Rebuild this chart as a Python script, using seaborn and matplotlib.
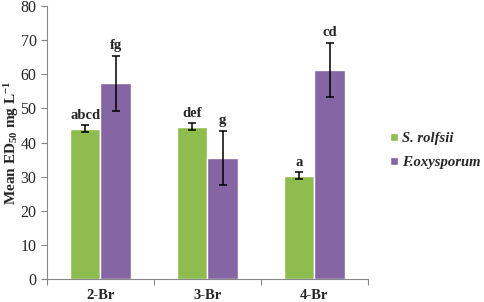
import numpy as np
import pandas as pd
import seaborn as sns
import matplotlib.pyplot as plt

# Data
compounds = ["2-Br", "3-Br", "4-Br"]
fungi = ["S. rolfsii", "F.oxysporum"]
rolfsii_mean = [44.1, 44.7, 30.3]
rolfsii_err = [1.0, 1.0, 1.0]
oxysporum_mean = [57.4, 35.6, 61.2]
oxysporum_err = [8.1, 7.9, 8.0]
rolfsii_letters = ["abcd", "def", "a"]
oxysporum_letters = ["fg", "g", "cd"]

colors = ["#8fbc4f", "#8565a3"]

df = pd.DataFrame({
    "Compound": compounds * 2,
    "Fungus": [fungi[0]] * 3 + [fungi[1]] * 3,
    "Mean": rolfsii_mean + oxysporum_mean,
})

sns.set_style("white")
plt.rcParams["font.family"] = ["Liberation Serif", "DejaVu Serif"]
plt.rcParams["mathtext.fontset"] = "custom"
plt.rcParams["mathtext.rm"] = "Liberation Serif:bold"
plt.rcParams["mathtext.bf"] = "Liberation Serif:bold"
plt.rcParams["mathtext.default"] = "rm"

fig = plt.figure(figsize=(4.84, 3.02), dpi=100)
ax = fig.add_axes([0.097, 0.076, 0.663, 0.904])

sns.barplot(data=df, x="Compound", y="Mean", hue="Fungus", palette=colors,
            width=0.57, saturation=1, errorbar=None, ax=ax, legend=True)

errs = [rolfsii_err, oxysporum_err]
means = [rolfsii_mean, oxysporum_mean]
letters = [rolfsii_letters, oxysporum_letters]
bar_groups = list(ax.containers)  # copy, errorbar() appends to ax.containers
for i, cont in enumerate(bar_groups):
    for j, bar in enumerate(cont):
        xc = bar.get_x() + bar.get_width() / 2
        ax.errorbar(xc, means[i][j], yerr=errs[i][j], fmt="none", ecolor="black",
                    elinewidth=1.1, capsize=3, capthick=1.1)
        ax.text(xc, means[i][j] + errs[i][j] + 1.0, letters[i][j], ha="center", va="bottom",
                fontsize=10.5, fontweight="bold")

ax.set_ylim(0, 80)
ax.set_yticks(np.arange(0, 81, 10))
ax.set_xlim(-0.5, 2.5)
ax.set_xlabel("")
ax.set_ylabel("Mean ED$_{50}$ mg L$^{-1}$", fontsize=11, fontweight="bold")
ax.yaxis.set_label_coords(-0.082, 0.5)
ax.tick_params(axis="y", labelsize=11.5, length=4, color="#888888", direction="out", left=True, width=0.8)
ax.tick_params(axis="x", which="major", length=0, labelsize=10.5, pad=7)
ax.set_xticks([-0.5, 0.5, 1.5, 2.5], minor=True)
ax.tick_params(axis="x", which="minor", length=4, color="#888888", bottom=True, width=0.8)
for lab in ax.get_xticklabels():
    lab.set_fontweight("bold")
for s in ["top", "right"]:
    ax.spines[s].set_visible(False)
for s in ["left", "bottom"]:
    ax.spines[s].set_color("#888888")
    ax.spines[s].set_linewidth(0.8)

leg = ax.legend(loc="center left", bbox_to_anchor=(1.07, 0.47), frameon=False, borderaxespad=0,
                borderpad=0, handlelength=0.55, handleheight=0.55, handletextpad=0.25, labelspacing=0.75,
                prop={"family": "Liberation Serif", "style": "italic", "weight": "bold", "size": 10.5})

fig.savefig("out.png", dpi=100)
